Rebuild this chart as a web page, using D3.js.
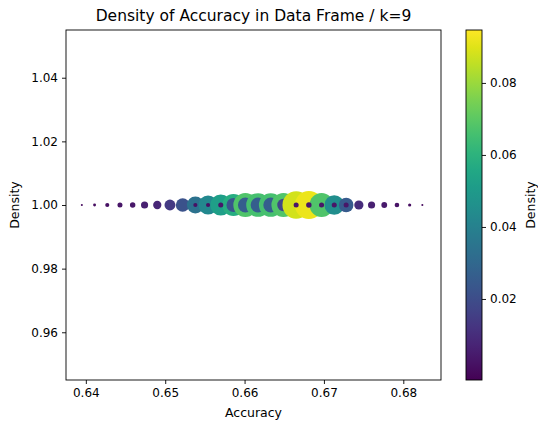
<!DOCTYPE html>
<html>
<head>
<meta charset="utf-8">
<script src="https://cdn.jsdelivr.net/npm/d3@7"></script>
<style>
  body { margin: 0; background: #fff; }
  text { font-family: "DejaVu Sans", sans-serif; fill: #000; }
</style>
</head>
<body>
<script>
// accuracy values (x), all plotted at y = 1
var accuracy = [0.6395, 0.6411, 0.6427, 0.6443, 0.6459, 0.6474, 0.6490, 0.6506,
  0.6522, 0.6538, 0.6554, 0.6570, 0.6586, 0.6601, 0.6617, 0.6633, 0.6649,
  0.6665, 0.6681, 0.6697, 0.6713, 0.6728, 0.6744, 0.6760, 0.6776, 0.6792,
  0.6808, 0.6824];
// density of the large marker at each accuracy
var outerDensity = [0.0005, 0.001, 0.002, 0.003, 0.0035, 0.006, 0.008, 0.014,
  0.022, 0.034, 0.043, 0.052, 0.058, 0.068, 0.066, 0.066, 0.068,
  0.088, 0.092, 0.068, 0.045, 0.025, 0.010, 0.006, 0.004, 0.0025,
  0.0012, 0.0005];
// density of the second (overlapping) marker at the same accuracy
var innerDensity = [null, null, null, null, null, null, null, null,
  null, 0.002, 0.002, 0.003, 0.023, 0.026, 0.026, 0.026, 0.018,
  0.003, 0.0035, 0.003, 0.003, 0.003, null, null, null, null,
  null, null];

var yValue = 1.0;
var xTicks = [0.64, 0.65, 0.66, 0.67, 0.68];
var yTicks = [0.96, 0.98, 1.00, 1.02, 1.04];
var cTicks = [0.02, 0.04, 0.06, 0.08];
var colorDomain = [-0.0025, 0.0947];

var W = 538, H = 424;
var margin = {left: 66, right: 97, top: 30, bottom: 44};
var x0 = margin.left, x1 = W - margin.right, y0 = margin.top, y1 = H - margin.bottom;

var svg = d3.select("body").append("svg")
  .attr("width", W).attr("height", H);

var x = d3.scaleLinear().domain([0.6375, 0.68475]).range([x0, x1]);
var y = d3.scaleLinear().domain([0.945, 1.055]).range([y1, y0]);
var color = d3.scaleSequential(d3.interpolateViridis).domain(colorDomain);
var r = d3.scaleSqrt().domain([0, 0.092]).range([0, 14]);

// build draw order: big marker, then its large inner marker; small dots last
var pts = [], late = [];
accuracy.forEach(function(a, i) {
  pts.push({a: a, d: outerDensity[i]});
  var d = innerDensity[i];
  if (d != null) {
    if (d > 0.01) pts.push({a: a, d: d});
    else late.push({a: a, d: d});
  }
});
pts = pts.concat(late);

var plot = svg.append("g");
plot.selectAll("circle").data(pts).enter().append("circle")
  .attr("cx", function(d) { return x(d.a); })
  .attr("cy", y(yValue))
  .attr("r", function(d) { return r(d.d); })
  .attr("fill", function(d) { return color(d.d); });

// axes frame
svg.append("rect").attr("x", x0).attr("y", y0)
  .attr("width", x1 - x0).attr("height", y1 - y0)
  .attr("fill", "none").attr("stroke", "#000").attr("stroke-width", 0.9);

var xAxis = svg.append("g").attr("transform", "translate(0," + y1 + ")")
  .call(d3.axisBottom(x).tickValues(xTicks).tickSize(4).tickPadding(4)
    .tickFormat(d3.format(".2f")));
var yAxis = svg.append("g").attr("transform", "translate(" + x0 + ",0)")
  .call(d3.axisLeft(y).tickValues(yTicks).tickSize(4).tickPadding(4)
    .tickFormat(d3.format(".2f")));
[xAxis, yAxis].forEach(function(g) {
  g.select(".domain").remove();
  g.selectAll("line").attr("stroke", "#000").attr("stroke-width", 0.9);
  g.selectAll("text").style("font-size", "12px").style("font-family", "DejaVu Sans");
});

svg.append("text").attr("x", (x0 + x1) / 2).attr("y", y1 + 37)
  .attr("text-anchor", "middle").style("font-size", "12.5px").text("Accuracy");
svg.append("text").attr("transform", "translate(19," + ((y0 + y1) / 2) + ") rotate(-90)")
  .attr("text-anchor", "middle").style("font-size", "12.5px").text("Density");
svg.append("text").attr("x", (x0 + x1) / 2).attr("y", 21)
  .attr("text-anchor", "middle").style("font-size", "15.5px").text("Density of Accuracy in Data Frame / k=9");

// colorbar
var cbX = 466, cbW = 16;
var cy = d3.scaleLinear().domain(colorDomain).range([y1, y0]);
var grad = svg.append("defs").append("linearGradient").attr("id", "vir")
  .attr("x1", 0).attr("y1", 1).attr("x2", 0).attr("y2", 0);
d3.range(0, 1.0001, 0.05).forEach(function(t) {
  grad.append("stop").attr("offset", t).attr("stop-color", d3.interpolateViridis(t));
});
svg.append("rect").attr("x", cbX).attr("y", y0).attr("width", cbW).attr("height", y1 - y0)
  .attr("fill", "url(#vir)").attr("stroke", "#000").attr("stroke-width", 0.9);
var cAxis = svg.append("g").attr("transform", "translate(" + (cbX + cbW) + ",0)")
  .call(d3.axisRight(cy).tickValues(cTicks).tickSize(4).tickPadding(4)
    .tickFormat(d3.format(".2f")));
cAxis.select(".domain").remove();
cAxis.selectAll("line").attr("stroke", "#000").attr("stroke-width", 0.9);
cAxis.selectAll("text").style("font-size", "12px").style("font-family", "DejaVu Sans");
svg.append("text").attr("transform", "translate(535," + ((y0 + y1) / 2) + ") rotate(-90)")
  .attr("text-anchor", "middle").style("font-size", "12.5px").text("Density");
</script>
</body>
</html>
